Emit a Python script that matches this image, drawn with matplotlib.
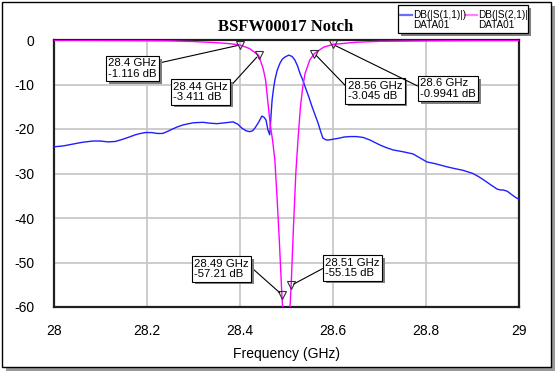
import matplotlib
matplotlib.use("Agg")
import matplotlib.pyplot as plt
from matplotlib.patches import Rectangle
from matplotlib.lines import Line2D
import matplotlib.patheffects as pe

plt.rcParams['font.family'] = ['Liberation Sans', 'DejaVu Sans']
plt.rcParams['axes.unicode_minus'] = False

# ---------------- data ----------------
s11_freq = [28.000, 28.020, 28.040, 28.060, 28.084, 28.100, 28.116, 28.132, 28.148,
            28.162, 28.175, 28.186, 28.196, 28.210, 28.222, 28.234, 28.245, 28.255,
            28.266, 28.277, 28.290, 28.300, 28.320, 28.336, 28.351, 28.368, 28.385,
            28.395, 28.404, 28.413, 28.421, 28.427, 28.432, 28.440, 28.447, 28.452,
            28.456, 28.460, 28.464, 28.467, 28.469, 28.472, 28.475, 28.480, 28.486,
            28.491, 28.497, 28.505, 28.512, 28.518, 28.524, 28.529, 28.535, 28.540,
            28.548, 28.555, 28.562, 28.568, 28.573, 28.578, 28.584, 28.589, 28.600,
            28.611, 28.624, 28.637, 28.650, 28.665, 28.680, 28.701, 28.715, 28.729,
            28.750, 28.772, 28.787, 28.802, 28.820, 28.845, 28.862, 28.880, 28.901,
            28.913, 28.925, 28.940, 28.953, 28.960, 28.966, 28.975, 28.985, 28.993,
            29.000]
s11_db = [-24.0, -23.8, -23.4, -23.0, -22.7, -22.7, -22.9, -22.8, -22.3,
          -21.8, -21.3, -21.0, -20.8, -20.8, -21.0, -21.0, -20.5, -20.0,
          -19.5, -19.1, -18.8, -18.6, -18.5, -18.7, -18.8, -18.6, -18.4,
          -18.9, -19.8, -20.4, -20.6, -20.4, -19.8, -18.5, -17.1, -17.4,
          -18.0, -20.2, -21.3, -16.5, -13.5, -11.0, -9.0, -6.8, -5.2,
          -4.3, -3.8, -3.4, -3.7, -4.5, -5.9, -7.5, -9.0, -10.5,
          -12.8, -15.0, -17.0, -18.7, -20.4, -22.0, -22.4, -22.5, -22.3,
          -22.1, -21.8, -21.7, -21.7, -21.9, -22.5, -23.6, -24.2, -24.7,
          -25.1, -25.6, -26.5, -27.4, -27.8, -28.5, -28.9, -29.3, -30.0,
          -30.7, -31.5, -32.6, -33.5, -33.7, -33.7, -34.0, -34.8, -35.4,
          -35.8]

s21_freq = [28.000, 28.100, 28.200, 28.250, 28.300, 28.350, 28.380, 28.400, 28.420,
            28.440, 28.450, 28.455, 28.460, 28.465, 28.470, 28.475, 28.480, 28.485,
            28.490, 28.500, 28.510, 28.515, 28.520, 28.525, 28.530, 28.535, 28.540,
            28.550, 28.560, 28.580, 28.600, 28.650, 28.700, 28.800, 28.900, 29.000]
s21_db = [-0.05, -0.08, -0.15, -0.2, -0.35, -0.6, -0.85, -1.116, -1.9,
          -3.411, -6.5, -9.0, -14.0, -19.0, -22.5, -27.0, -36.0, -46.0,
          -57.21, -75.0, -55.15, -42.0, -30.0, -22.0, -15.0, -10.5, -7.5,
          -4.5, -3.045, -1.6, -0.9941, -0.5, -0.3, -0.2, -0.12, -0.1]

marker_freq = [28.4, 28.44, 28.49, 28.51, 28.56, 28.6]
marker_db = [-1.116, -3.411, -57.21, -55.15, -3.045, -0.9941]
marker_text = ["28.4 GHz\n-1.116 dB", "28.44 GHz\n-3.411 dB", "28.49 GHz\n-57.21 dB",
               "28.51 GHz\n-55.15 dB", "28.56 GHz\n-3.045 dB", "28.6 GHz\n-0.9941 dB"]

xticks = [28, 28.2, 28.4, 28.6, 28.8, 29]
xticklabels = ["28", "28.2", "28.4", "28.6", "28.8", "29"]
yticks = [0, -10, -20, -30, -40, -50, -60]
yticklabels = ["0", "-10", "-20", "-30", "-40", "-50", "-60"]

title = "BSFW00017 Notch"
xlabel = "Frequency (GHz)"
legend_names = ["DB(|S(1,1)|)", "DB(|S(2,1)|)"]
legend_sub = ["DATA01", "DATA01"]

# ---------------- layout ----------------
W, H = 558, 374
fig = plt.figure(figsize=(W / 100, H / 100), dpi=100)
fig.patch.set_facecolor('white')

def fx(x):
    return x / W

def fy(y):
    return 1 - y / H

# outer frame with shadow
fig.add_artist(Rectangle((fx(6), fy(371)), fx(551 - 2), (367 - 2) / H,
                         transform=fig.transFigure, fc='#9a9a9a', ec='none', zorder=-3))
fig.add_artist(Rectangle((fx(2), fy(367)), fx(551 - 2), (367 - 2) / H,
                         transform=fig.transFigure, fc='white', ec='black', lw=1.0, zorder=-2))

ax = fig.add_axes([fx(54), fy(307), fx(465), 267 / H])
ax.set_xlim(28, 29)
ax.set_ylim(-60, 0)
ax.set_xticks(xticks)
ax.set_xticklabels(xticklabels, fontsize=10)
ax.set_yticks(yticks)
ax.set_yticklabels(yticklabels, fontsize=10)
ax.tick_params(axis='both', length=0)
ax.tick_params(axis='x', pad=12)
ax.tick_params(axis='y', pad=14)
ax.grid(True, color='#c8c8c8', lw=1.3)
ax.set_axisbelow(True)
for sp in ax.spines.values():
    sp.set_linewidth(1.6)
    sp.set_color('#202020')

ax.plot(s11_freq, s11_db, color='#1f1fff', lw=1.0, zorder=3)
ax.plot(s21_freq, s21_db, color='#ff00ff', lw=1.0, zorder=3.1)
ax.plot(marker_freq, marker_db, linestyle='none', marker='v', markersize=6,
        markerfacecolor='none', markeredgecolor='#303030', markeredgewidth=0.8,
        zorder=4, clip_on=False)

ax.set_xlabel(xlabel, fontsize=10)
ax.xaxis.set_label_coords(0.5, -0.148)

fig.text(fx(286), fy(27), title, ha='center', va='center', fontsize=12,
         fontweight='bold', family=['Liberation Serif', 'DejaVu Serif'])

# marker annotation boxes: center (px), relpos of leader line
box_centers = [(132.5, 68.5), (200.5, 92), (221.5, 269), (352.5, 268),
               (375, 91), (448, 88.5)]
box_relpos = [(1, 0.74), (1, 0.64), (1, 0.68), (0, 0.54), (0, 0.64), (0, 0.56)]

for f, v, t, (cx, cy), rp in zip(marker_freq, marker_db, marker_text, box_centers, box_relpos):
    ann = ax.annotate(t, xy=(f, v), xycoords='data',
                      xytext=(cx, H - cy), textcoords='figure pixels',
                      ha='center', va='center', multialignment='left',
                      fontsize=8.2, linespacing=1.1,
                      bbox=dict(boxstyle='square,pad=0.2', fc='white', ec='black', lw=0.8),
                      arrowprops=dict(arrowstyle='-', color='black', lw=0.8,
                                      shrinkA=0, shrinkB=2, relpos=rp),
                      annotation_clip=False, zorder=5)
    ann.get_bbox_patch().set_path_effects([
        pe.SimplePatchShadow(offset=(2, -2), shadow_rgbFace='#808080', alpha=1.0),
        pe.Normal()])

# legend (manual)
leg_rect = Rectangle((fx(398), fy(33)), fx(528 - 398), (33 - 5) / H,
                     transform=fig.transFigure, fc='white', ec='black', lw=0.9, zorder=6)
leg_rect.set_path_effects([pe.SimplePatchShadow(offset=(2, -2), shadow_rgbFace='#808080', alpha=1.0),
                           pe.Normal()])
fig.add_artist(leg_rect)
leg_colors = ['#6b6bff', '#ff80ff']
leg_x = [400, 465]
for name, sub, col, x0 in zip(legend_names, legend_sub, leg_colors, leg_x):
    fig.add_artist(Line2D([fx(x0), fx(x0 + 12)], [fy(15), fy(15)], transform=fig.transFigure,
                          color=col, lw=1.6, zorder=7))
    t1 = fig.text(fx(x0 + 13), fy(15), name, ha='left', va='center', fontsize=7.2, zorder=7)
    t2 = fig.text(fx(x0 + 13), fy(25.5), sub, ha='left', va='center', fontsize=7.2, zorder=7)
    t1.set_clip_path(leg_rect)
    t2.set_clip_path(leg_rect)

fig.savefig('out.png', dpi=100, facecolor='white')
